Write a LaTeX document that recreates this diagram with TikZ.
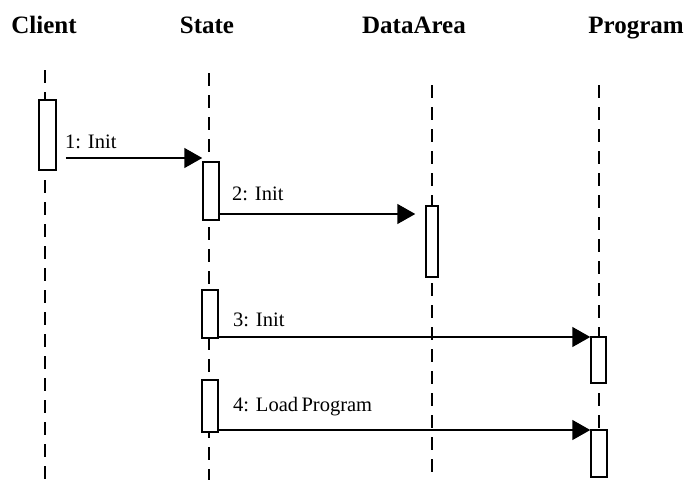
\documentclass[tikz,border=0pt]{standalone}
\usepackage{fontspec}
\setmainfont{Liberation Serif}
\usepackage{tikz}
\usetikzlibrary{arrows.meta,positioning,calc}

\begin{document}
\begin{tikzpicture}[x=1pt,y=-1pt,
    head/.style={font=\fontsize{25}{29}\selectfont\bfseries, inner sep=0pt, anchor=base},
    lbl/.style={font=\fontsize{20.5}{24}\selectfont, inner sep=0pt, anchor=base west},
    life/.style={line width=1.5pt, dash pattern=on 13pt off 9pt},
    act/.style={draw, fill=white, line width=1.5pt, inner sep=0pt},
    msg/.style={line width=1.5pt, -{Triangle[length=18pt,width=20pt]}}]
  \useasboundingbox (0,0) rectangle (688,480);

  % Objects
  \node[head] (client) at (44,33) {Client};
  \node[head] (state) at (207,33) {State};
  \node[head] (data) at (414,33) {DataArea};
  \node[head] (prog) at (636,33) {Program};

  % Lifelines
  \coordinate (clientT) at (45,70);  \coordinate (clientB) at (45,480);
  \coordinate (stateT) at (209,73);  \coordinate (stateB) at (209,480);
  \coordinate (dataT) at (432,85);   \coordinate (dataB) at (432,480);
  \coordinate (progT) at (599,85);   \coordinate (progB) at (599,480);
  \draw[life] (clientT) -- (clientB);
  \draw[life] (stateT) -- (stateB);
  \draw[life] (dataT) -- (dataB);
  \draw[life] (progT) -- (progB);

  % Activations
  \node[act, minimum width=17, minimum height=70] (clientact) at (47.5,135) {};
  \node[act, minimum width=16, minimum height=58] (stateact1) at (211,191) {};
  \node[act, minimum width=12, minimum height=71] (dataact) at (432,241.5) {};
  \node[act, minimum width=16, minimum height=48] (stateact2) at (210,314) {};
  \node[act, minimum width=15, minimum height=46] (progact1) at (598.5,360) {};
  \node[act, minimum width=16, minimum height=52] (stateact3) at (210,406) {};
  \node[act, minimum width=16, minimum height=47] (progact2) at (599,453.5) {};

  % Messages
  \coordinate (m1) at (0,158);
  \coordinate (m2) at (0,214);
  \coordinate (m3) at (0,337);
  \coordinate (m4) at (0,430);
  \draw[msg] ([xshift=9pt]clientact.east |- m1) -- (stateact1.west |- m1);
  \draw[msg] (stateact1.east |- m2) -- ([xshift=-10pt]dataact.west |- m2);
  \draw[msg] (stateact2.east |- m3) -- (progact1.west |- m3);
  \draw[msg] (stateact3.east |- m4) -- (progact2.west |- m4);

  % Labels
  \node[lbl] (l1) at (65,148) {1: Init};
  \node[lbl] (l2) at (232,200) {2: Init};
  \node[lbl] (l3) at (233,326) {3: Init};
  \node[lbl] (l4) at (233,411) {4: Load\,Program};
\end{tikzpicture}
\end{document}
